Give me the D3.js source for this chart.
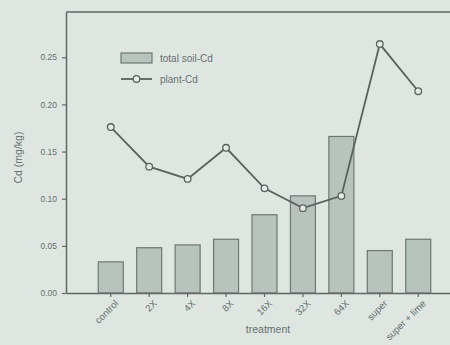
<!DOCTYPE html>
<html>
<head>
<meta charset="utf-8">
<script src="https://cdn.jsdelivr.net/npm/d3@7/dist/d3.min.js"></script>
<style>
  html, body { margin: 0; padding: 0; background: #dfe6e2; }
  svg { display: block; }
  text { font-family: "Liberation Sans", Arial, sans-serif; fill: #66706c; }
</style>
</head>
<body>
<svg id="chart" width="450" height="345"></svg>
<script>
// Treatments and measured Cd concentrations (mg/kg)
const treatments = ["control", "2X", "4X", "8X", "16X", "32X", "64X", "super", "super + lime"];
const soilCd  = [0.033, 0.048, 0.051, 0.057, 0.083, 0.103, 0.166, 0.045, 0.057];
const plantCd = [0.176, 0.134, 0.121, 0.154, 0.111, 0.090, 0.103, 0.264, 0.214];
const yTicks  = [0.00, 0.05, 0.10, 0.15, 0.20, 0.25];

const svg = d3.select("#chart");
const margin = { left: 66, right: -13, top: 12, bottom: 52 };
const W = 450, H = 345;

const x = d3.scaleBand()
  .domain(treatments)
  .range([margin.left, W - margin.right])
  .paddingInner(0.35)
  .paddingOuter(0.84);

const y = d3.scaleLinear()
  .domain([0, 0.298])
  .range([H - margin.bottom, margin.top]);

const axisColor = "#5f6864";

// frame top edge
svg.append("line")
  .attr("x1", margin.left).attr("x2", W - margin.right)
  .attr("y1", margin.top).attr("y2", margin.top)
  .attr("stroke", axisColor).attr("stroke-width", 1.5);

// bars: total soil Cd
svg.append("g").selectAll("rect")
  .data(treatments)
  .join("rect")
  .attr("x", d => x(d))
  .attr("width", x.bandwidth())
  .attr("y", (d, i) => y(soilCd[i]))
  .attr("height", (d, i) => y(0) - y(soilCd[i]))
  .attr("fill", "#b9c3be")
  .attr("stroke", "#6d7773")
  .attr("stroke-width", 1.2);

// y axis
const yAxis = svg.append("g")
  .attr("transform", `translate(${margin.left},0)`)
  .call(d3.axisLeft(y).tickValues(yTicks).tickFormat(d3.format(".2f"))
    .tickSize(4).tickSizeOuter(0).tickPadding(5));
yAxis.select(".domain").attr("stroke", axisColor).attr("stroke-width", 1.5);
yAxis.selectAll(".tick line").attr("stroke", axisColor).attr("stroke-width", 1.2);
yAxis.selectAll(".tick text").style("font-size", "8.5px").attr("fill", "#6a7370");

// x axis
const xAxis = svg.append("g")
  .attr("transform", `translate(0,${y(0)})`)
  .call(d3.axisBottom(x).tickSize(4).tickSizeOuter(0));
xAxis.select(".domain").attr("stroke", axisColor).attr("stroke-width", 1.5);
xAxis.selectAll(".tick line").attr("stroke", axisColor).attr("stroke-width", 1.2);
xAxis.selectAll(".tick text")
  .style("font-size", "9.5px")
  .attr("fill", "#6a7370")
  .attr("text-anchor", "end")
  .attr("x", -2)
  .attr("y", 8)
  .attr("dy", "0.6em")
  .attr("transform", "rotate(-45)");

// plant Cd line
const line = d3.line()
  .x((d, i) => x(treatments[i]) + x.bandwidth() / 2)
  .y(d => y(d));

svg.append("path")
  .datum(plantCd)
  .attr("d", line)
  .attr("fill", "none")
  .attr("stroke", "#59625e")
  .attr("stroke-width", 1.8);

svg.append("g").selectAll("circle")
  .data(plantCd)
  .join("circle")
  .attr("cx", (d, i) => x(treatments[i]) + x.bandwidth() / 2)
  .attr("cy", d => y(d))
  .attr("r", 3.3)
  .attr("fill", "#e6ebe8")
  .attr("stroke", "#59625e")
  .attr("stroke-width", 1.3);

// axis titles
svg.append("text")
  .attr("transform", `translate(22,${(margin.top + y(0)) / 2 + 5}) rotate(-90)`)
  .attr("text-anchor", "middle")
  .style("font-size", "10.5px")
  .text("Cd (mg/kg)");

svg.append("text")
  .attr("x", 268).attr("y", 333)
  .attr("text-anchor", "middle")
  .style("font-size", "10.5px")
  .text("treatment");

// legend
const lg = svg.append("g");
lg.append("rect")
  .attr("x", 121).attr("y", 53).attr("width", 31).attr("height", 10)
  .attr("fill", "#b9c3be").attr("stroke", "#6d7773").attr("stroke-width", 1.2);
lg.append("text").attr("x", 160).attr("y", 62).style("font-size", "10px").text("total soil-Cd");
lg.append("line")
  .attr("x1", 121).attr("x2", 152).attr("y1", 79).attr("y2", 79)
  .attr("stroke", "#59625e").attr("stroke-width", 1.8);
lg.append("circle")
  .attr("cx", 136.5).attr("cy", 79).attr("r", 3.3)
  .attr("fill", "#e6ebe8").attr("stroke", "#59625e").attr("stroke-width", 1.3);
lg.append("text").attr("x", 160).attr("y", 83).style("font-size", "10px").text("plant-Cd");
</script>
</body>
</html>
